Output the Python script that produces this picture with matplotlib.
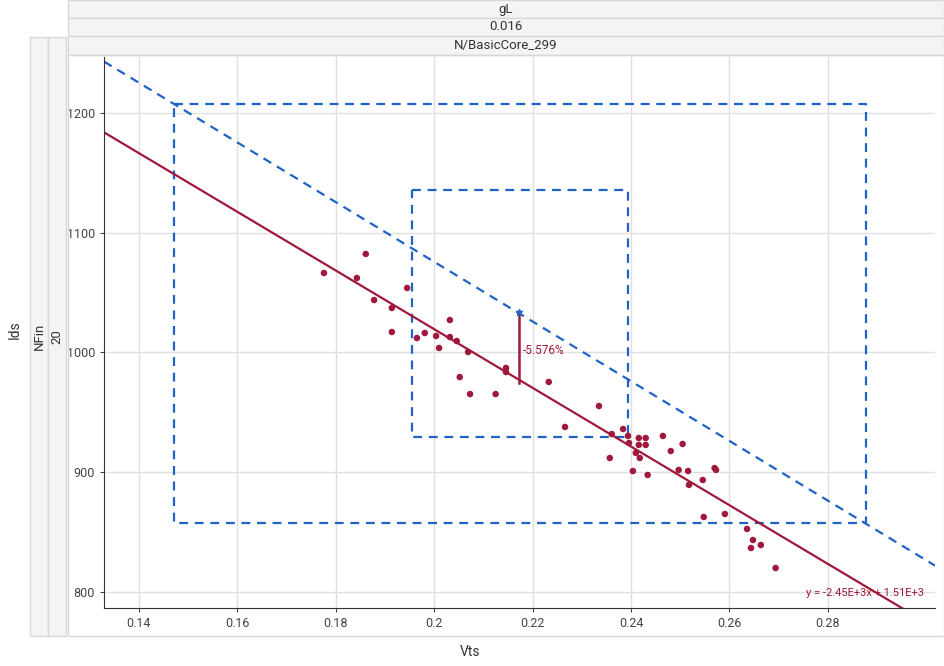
import matplotlib
matplotlib.use("Agg")
import matplotlib.pyplot as plt
from matplotlib.patches import Rectangle
import numpy as np

plt.rcParams['font.family'] = ['Roboto', 'DejaVu Sans']

px = [324,357,366,374,392,392,407,417,425,436,439,450,450,457,460,468,470,496,506,506,549,565,599,612,610,623,628,629,639,639,636,640,633,646,646,648,663,671,683,679,688,689,703,715,716,704,725,747,753,751,761,776]
py = [273,278,254,300,308,332,288,338,333,336,348,320,337,341,377,352,394,394,368,372,382,427,406,434,458,429,436,443,438,445,453,458,471,438,445,475,436,451,444,470,471,485,480,468,470,517,514,529,540,548,545,568]
vts = [round(0.14 + (a - 139) / 4921, 4) for a in px]
ids = [round(1200 - (b - 113) / 1.1975, 1) for b in py]

fit_slope, fit_icpt = -2450.0, 1509.5
env_x = [0.1329, 0.3018]
env_y = [1243.0, 822.0]
outer_box = (0.1471, 0.2877, 857.6, 1207.5)
inner_box = (0.1955, 0.2394, 929.5, 1135.7)
ann_x, ann_y0, ann_y1 = 0.2172, 974.5, 1033.8

W, H = 944, 666
fig = plt.figure(figsize=(W/100, H/100), dpi=100)

def fr(x0, y0, x1, y1):
    return [x0/W, 1-y1/H, (x1-x0)/W, (y1-y0)/H]

strip_c = '#f4f4f4'
edge = '#d8d8d8'
for (x0,y0,x1,y1,t) in [(68,0,944,18,'gL'),(68,18,944,36,'0.016'),(68,36,944,55,'N/BasicCore_299')]:
    fig.patches.append(Rectangle((x0/W,1-y1/H),(x1-x0)/W,(y1-y0)/H,transform=fig.transFigure,fc=strip_c,ec=edge,lw=1))
    fig.text((x0+x1)/2/W, 1-(y0+y1)/2/H, t, ha='center', va='center', fontsize=9.5, color='#333333')
for (x0,y0,x1,y1,t) in [(30,37,48,636,'NFin'),(48,37,66,636,'20')]:
    fig.patches.append(Rectangle((x0/W,1-y1/H),(x1-x0)/W,(y1-y0)/H,transform=fig.transFigure,fc=strip_c,ec=edge,lw=1))
    fig.text((x0+x1)/2/W, 1-(y0+y1)/2/H, t, ha='center', va='center', fontsize=9.5, rotation=90, color='#333333')
fig.patches.append(Rectangle((68/W,1-636/H),(944-68)/W,(636-55)/H,transform=fig.transFigure,fc='none',ec=edge,lw=1))
fig.text(15/W, 1-330/H, 'Ids', rotation=90, ha='center', va='center', fontsize=10, color='#333333')
fig.text(470/W, 1-652/H, 'Vts', ha='center', va='center', fontsize=10, color='#333333')

ax = fig.add_axes(fr(104, 57, 935, 608))
ax.set_xlim(0.1329, 0.3018)
ax.set_ylim(786.6, 1246.8)
ax.set_xticks([0.14,0.16,0.18,0.2,0.22,0.24,0.26,0.28])
ax.set_xticklabels(['0.14','0.16','0.18','0.2','0.22','0.24','0.26','0.28'])
ax.set_yticks([800,900,1000,1100,1200])
ax.tick_params(labelsize=9, colors='#444444', length=3)
ax.grid(True, color='#e0e0e0', lw=1)
ax.set_axisbelow(True)
for s in ['top','right']:
    ax.spines[s].set_visible(False)
for s in ['left','bottom']:
    ax.spines[s].set_color('#333333')

blue = '#1f63c6'
red = '#a0183a'
ax.plot(env_x, env_y, ls=(0,(4,3)), color=blue, lw=1.6)
for (a,b,c,d) in [outer_box, inner_box]:
    ax.plot([a,b,b,a,a],[d,d,c,c,d], ls=(0,(4,3)), color=blue, lw=1.6)
xx = np.array(ax.get_xlim())
ax.plot(xx, fit_slope*xx + fit_icpt, color=red, lw=1.6)
ax.scatter(vts, ids, s=22, color=red, zorder=3, edgecolors='none')
ax.plot([ann_x, ann_x],[ann_y0, ann_y1], color=red, lw=1.8)
ax.plot([ann_x],[ann_y1], marker='*', color=blue, ms=5)
ax.text(ann_x+0.0008, 1002, '-5.576%', color=red, fontsize=8.5, va='center')
ax.text(0.2995, 795, 'y = -2.45E+3x + 1.51E+3', color=red, fontsize=8, ha='right', va='bottom')

fig.savefig('out.png', dpi=100)
